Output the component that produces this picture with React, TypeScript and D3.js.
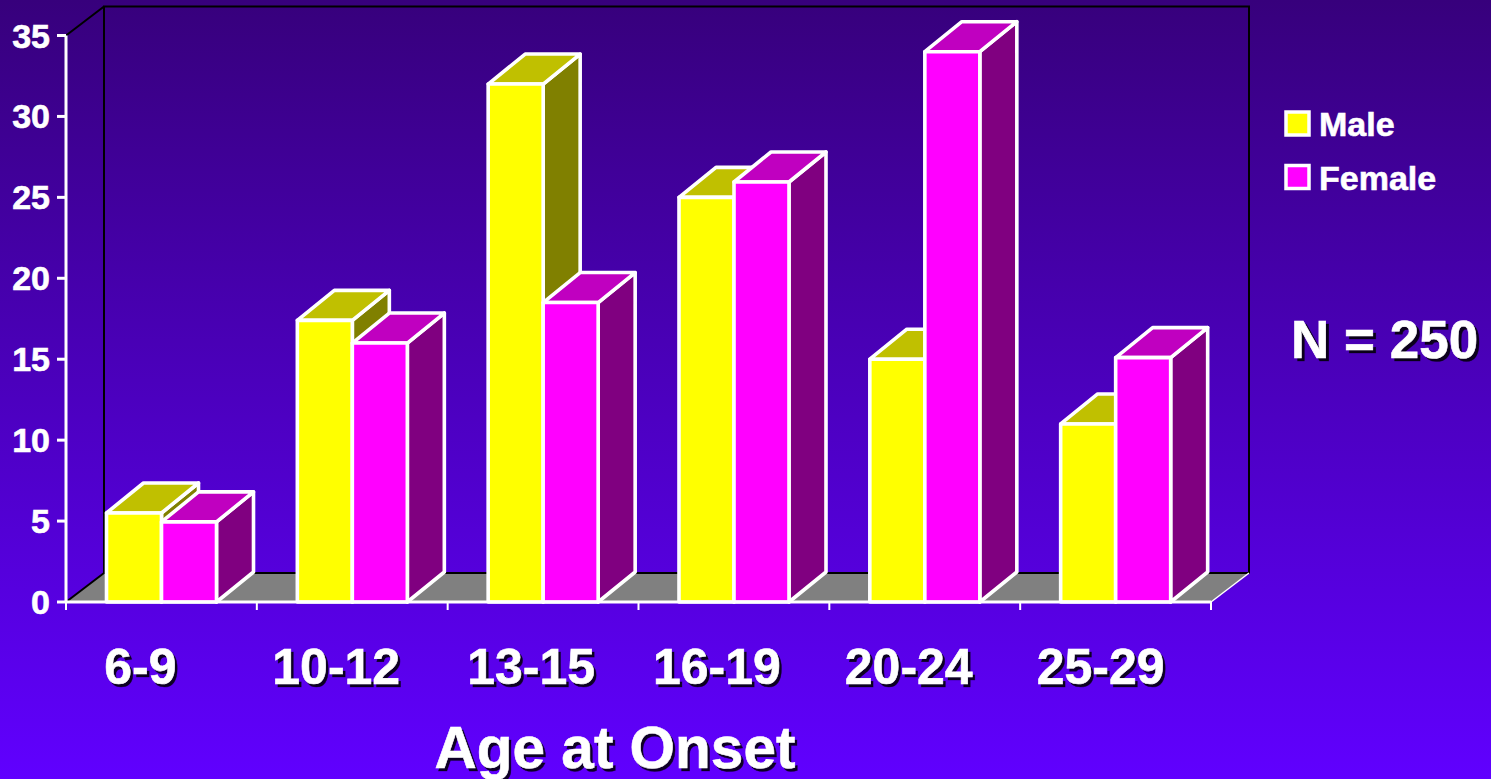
import React from "react";
import * as d3 from "d3";

const categories = ["6-9", "10-12", "13-15", "16-19", "20-24", "25-29"];
const male = [5.5, 17.4, 32, 25, 15, 11];
const female = [4.95, 16, 18.5, 25.95, 34, 15.1];
const yTicks = [0, 5, 10, 15, 20, 25, 30, 35];
const seriesNames = ["Male", "Female"];
// small per-label horizontal shifts seen in the reference
const labelNudge = [-21, -16, -12, -17, -16, -15];

const W = 1491, H = 779;
const x0 = 66, x1 = 1211, yBase = 602, yTop = 35.5;
const depthX = 38, depthY = 29;
const barDX = 37, barDY = 30;
const FONT = "'Liberation Sans', Arial, sans-serif";

const x = d3.scaleBand<string>().domain(categories).range([x0, x1]);
const y = d3.scaleLinear().domain([0, 35]).range([yBase, yTop]);
const barW = 55;
const barInset = 40.5;

const poly = (pts: number[][]) => pts.map((p) => p.join(",")).join(" ");

const palettes = [
  { front: "#ffff00", top: "#c0c000", side: "#808000" },
  { front: "#ff00ff", top: "#c000c0", side: "#800080" },
];

function Bar({ bx, v, pal }: { bx: number; v: number; pal: typeof palettes[0] }) {
  const t = y(v);
  const st = { stroke: "#fff", strokeWidth: 3.6, strokeLinejoin: "round" as const };
  return (
    <g>
      <polygon points={poly([[bx + barW, t], [bx + barW + barDX, t - barDY], [bx + barW + barDX, yBase - barDY], [bx + barW, yBase]])} fill={pal.side} {...st} />
      <polygon points={poly([[bx, t], [bx + barDX, t - barDY], [bx + barW + barDX, t - barDY], [bx + barW, t]])} fill={pal.top} {...st} />
      <rect x={bx} y={t} width={barW} height={yBase - t} fill={pal.front} {...st} />
    </g>
  );
}

function Txt({ tx, ty, size, anchor = "start", children, shadow = 2, bold = 0.6 }: any) {
  const common = { x: tx, y: ty, fontSize: size, textAnchor: anchor, fontFamily: FONT, fontWeight: 700 };
  return (
    <g>
      {shadow > 0 && <text {...common} dx={shadow} dy={shadow} fill="#000" fillOpacity={0.85} stroke="#000" strokeOpacity={0.5} strokeWidth={bold}>{children}</text>}
      <text {...common} fill="#fff" stroke="#fff" strokeWidth={bold}>{children}</text>
    </g>
  );
}

export default function App() {
  const bw = x.bandwidth();
  return (
    <svg width={W} height={H} viewBox={`0 0 ${W} ${H}`} style={{ position: "absolute", left: 0, top: 0, display: "block" }}>
      <defs>
        <linearGradient id="bg" x1="0" y1="0" x2="0" y2="1">
          <stop offset="0" stopColor="#37007c" />
          <stop offset="1" stopColor="#6000ff" />
        </linearGradient>
      </defs>
      <rect x={0} y={0} width={W} height={H} fill="url(#bg)" />

      {/* walls */}
      <polygon points={poly([[x0, yBase], [x0 + depthX, yBase - depthY], [x1 + depthX, yBase - depthY], [x1, yBase]])} fill="#808080" />
      <rect x={x0 + depthX} y={y(35) - depthY} width={x1 - x0} height={yBase - y(35)} fill="none" stroke="#000" strokeWidth={2} />
      <line x1={x0} y1={y(35)} x2={x0 + depthX} y2={y(35) - depthY} stroke="#000" strokeWidth={2} />
      <line x1={x0} y1={yBase} x2={x0 + depthX} y2={yBase - depthY} stroke="#000" strokeWidth={2} />
      <line x1={x1} y1={yBase} x2={x1 + depthX} y2={yBase - depthY} stroke="#fff" strokeWidth={1.5} />

      {/* bars */}
      {categories.map((c, i) => {
        const left = (x(c) as number) + barInset;
        return (
          <g key={c}>
            <Bar bx={left} v={male[i]} pal={palettes[0]} />
            <Bar bx={left + barW} v={female[i]} pal={palettes[1]} />
          </g>
        );
      })}

      {/* axes */}
      <line x1={x0} y1={y(35)} x2={x0} y2={yBase} stroke="#fff" strokeWidth={3} />
      <line x1={x0} y1={yBase} x2={x1} y2={yBase} stroke="#fff" strokeWidth={3} />
      {yTicks.map((t) => (
        <g key={t}>
          <line x1={x0 - 9} y1={y(t)} x2={x0} y2={y(t)} stroke="#fff" strokeWidth={3} />
          <Txt tx={50} ty={y(t) + 12} size={34} anchor="end" shadow={0}>{t}</Txt>
        </g>
      ))}
      {[...categories.map((c) => x(c) as number), x1].map((p, i) => (
        <line key={i} x1={p} y1={yBase} x2={p} y2={yBase + 8} stroke="#fff" strokeWidth={2} />
      ))}
      {categories.map((c, i) => (
        <Txt key={c} tx={(x(c) as number) + bw / 2 + labelNudge[i]} ty={684} size={50} anchor="middle" shadow={2.5}>{c}</Txt>
      ))}
      <Txt tx={615} ty={768} size={58.5} anchor="middle" shadow={2.5}>Age at Onset</Txt>

      {/* legend */}
      {seriesNames.map((s, i) => (
        <g key={s}>
          <rect x={1286} y={112 + i * 53.5} width={23} height={23} fill={palettes[i].front} stroke="#fff" strokeWidth={3.5} />
          <Txt tx={1319} ty={136 + i * 54} size={34} shadow={0}>{s}</Txt>
        </g>
      ))}
      <Txt tx={1291} ty={358} size={53} shadow={3}>N = 250</Txt>
    </svg>
  );
}
